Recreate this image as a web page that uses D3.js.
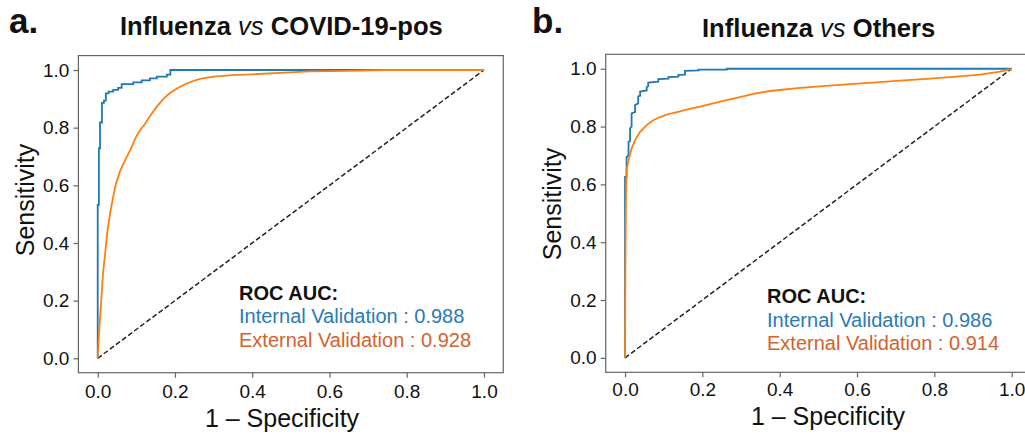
<!DOCTYPE html>
<html>
<head>
<meta charset="utf-8">
<script src="https://cdn.jsdelivr.net/npm/d3@7/dist/d3.min.js"></script>
<style>
  html, body { margin: 0; padding: 0; background: #fff; }
  svg { display: block; font-family: "Liberation Sans", Arial, sans-serif; }
</style>
</head>
<body>
<svg id="chart" width="1025" height="434"></svg>
<script>
// ---------- data ----------
const tickValues = [0, 0.2, 0.4, 0.6, 0.8, 1.0];
const panelLetters = ["a.", "b."];
const titleLeft = ["Influenza", "Influenza"];
const titleRight = ["COVID-19-pos", "Others"];
const aucInternal = ["0.988", "0.986"];
const aucExternal = ["0.928", "0.914"];

// Panel a: Influenza vs COVID-19-pos
const aInternalFpr = [0,0,0.003,0.003,0.006,0.006,0.011,0.011,0.016,0.016,0.021,0.021,0.028,0.028,0.04,0.04,0.053,0.053,0.062,0.062,0.092,0.092,0.114,0.114,0.135,0.135,0.153,0.153,0.179,0.179,0.188,0.188,1];
const aInternalTpr = [0,0.532,0.532,0.728,0.728,0.818,0.818,0.886,0.886,0.894,0.894,0.919,0.919,0.925,0.925,0.931,0.931,0.938,0.938,0.951,0.951,0.957,0.957,0.964,0.964,0.971,0.971,0.977,0.977,0.984,0.984,1.0,1.0];
const aExternalFpr = [0,0.004,0.009,0.014,0.019,0.025,0.033,0.04,0.047,0.058,0.072,0.085,0.1,0.11,0.122,0.135,0.153,0.17,0.187,0.205,0.222,0.245,0.265,0.3,0.35,0.4,0.47,0.55,0.65,0.75,1];
const aExternalTpr = [0,0.1,0.2,0.3,0.36,0.44,0.51,0.56,0.605,0.65,0.69,0.725,0.77,0.792,0.812,0.84,0.873,0.9,0.92,0.936,0.948,0.961,0.969,0.977,0.982,0.985,0.99,0.995,0.997,1.0,1.0];

// Panel b: Influenza vs Others
const bInternalFpr = [0,0,0.004,0.004,0.009,0.009,0.013,0.013,0.017,0.017,0.026,0.026,0.034,0.034,0.039,0.039,0.056,0.056,0.06,0.06,0.086,0.086,0.112,0.112,0.138,0.138,0.155,0.155,0.19,0.19,0.263,0.263,1];
const bInternalTpr = [0,0.626,0.626,0.695,0.7,0.747,0.75,0.794,0.8,0.846,0.85,0.875,0.88,0.904,0.906,0.921,0.925,0.936,0.94,0.952,0.955,0.964,0.966,0.971,0.973,0.979,0.98,0.993,0.994,0.997,0.997,1.0,1.0];
const bExternalFpr = [0,0.001,0.002,0.003,0.004,0.009,0.017,0.026,0.039,0.056,0.073,0.09,0.112,0.14,0.164,0.194,0.215,0.246,0.297,0.335,0.375,0.453,0.52,0.582,0.65,0.711,0.78,0.84,0.918,0.97,1];
const bExternalTpr = [0,0.3,0.5,0.6,0.649,0.684,0.724,0.753,0.782,0.805,0.822,0.833,0.843,0.852,0.86,0.869,0.876,0.886,0.902,0.914,0.923,0.934,0.941,0.947,0.953,0.959,0.965,0.971,0.98,0.99,1.0];

const internalFpr = [aInternalFpr, bInternalFpr];
const internalTpr = [aInternalTpr, bInternalTpr];
const externalFpr = [aExternalFpr, bExternalFpr];
const externalTpr = [aExternalTpr, bExternalTpr];

// ---------- layout ----------
const layout = [
  { x0: 78.4, x1: 503.3, y0: 372.7, y1: 55.6, letterX: 9, letterY: 33, titleX: 120, titleY: 34.5,
    xlabX: 282, xlabY: 427, ylabX: 34, ylabY: 200, legX: 239, legY: 299.5, xPad: 7 },
  { x0: 605.7, x1: 1031, y0: 372.3, y1: 54.3, letterX: 532, letterY: 33, titleX: 702, titleY: 36.5,
    xlabX: 828, xlabY: 425, ylabX: 561, ylabY: 204, legX: 767, legY: 303, xPad: 5.5 }
];

const blueLine = "#1f77b4", orangeLine = "#ff7f0e";
const blueText = "#2a7ab8", orangeText = "#d2622e";

const svg = d3.select("#chart");

layout.forEach((L, i) => {
  const x = d3.scaleLinear().domain([-0.05, 1.05]).range([L.x0, L.x1]);
  const y = d3.scaleLinear().domain([-0.05, 1.05]).range([L.y0, L.y1]);
  const g = svg.append("g");

  // diagonal
  g.append("path")
    .datum([[0, 0], [1, 1]])
    .attr("d", d3.line().x(d => x(d[0])).y(d => y(d[1])))
    .attr("fill", "none").attr("stroke", "#222").attr("stroke-width", 1.5)
    .attr("stroke-dasharray", "5,2.6");

  const line = d3.line().x(d => x(d[0])).y(d => y(d[1]));
  const ext = externalFpr[i].map((f, k) => [f, externalTpr[i][k]]);
  const int = internalFpr[i].map((f, k) => [f, internalTpr[i][k]]);
  g.append("path").datum(int).attr("d", line)
    .attr("fill", "none").attr("stroke", blueLine).attr("stroke-width", 1.8);
  g.append("path").datum(ext).attr("d", line)
    .attr("fill", "none").attr("stroke", orangeLine).attr("stroke-width", 1.8);

  // frame
  g.append("rect")
    .attr("x", L.x0).attr("y", L.y1)
    .attr("width", L.x1 - L.x0).attr("height", L.y0 - L.y1)
    .attr("fill", "none").attr("stroke", "#666").attr("stroke-width", 1.2);

  // axes
  const xAxis = d3.axisBottom(x).tickValues(tickValues).tickFormat(d3.format(".1f"))
    .tickSize(5).tickPadding(L.xPad);
  const yAxis = d3.axisLeft(y).tickValues(tickValues).tickFormat(d3.format(".1f"))
    .tickSize(5).tickPadding(4);
  const gx = g.append("g").attr("transform", `translate(0,${L.y0})`).call(xAxis);
  const gy = g.append("g").attr("transform", `translate(${L.x0},0)`).call(yAxis);
  [gx, gy].forEach(a => {
    a.select(".domain").remove();
    a.selectAll(".tick line").attr("stroke", "#666").attr("stroke-width", 1.2);
    a.selectAll(".tick text").attr("fill", "#111")
      .style("font-size", "19px").style("font-family", "'Liberation Sans', Arial, sans-serif");
  });

  // axis labels
  g.append("text").attr("x", L.xlabX).attr("y", L.xlabY).attr("text-anchor", "middle")
    .style("font-size", "25px").attr("fill", "#111").text("1 \u2013 Specificity");
  g.append("text").attr("transform", `translate(${L.ylabX},${L.ylabY}) rotate(-90)`)
    .attr("text-anchor", "middle").style("font-size", "25px").attr("fill", "#111").text("Sensitivity");

  // panel letter
  g.append("text").attr("x", L.letterX).attr("y", L.letterY)
    .style("font-size", "35px").style("font-weight", "bold").attr("fill", "#111").text(panelLetters[i]);

  // title
  const t = g.append("text").attr("x", L.titleX).attr("y", L.titleY)
    .style("font-size", "25.6px").style("font-weight", "bold").attr("fill", "#111");
  t.append("tspan").text(titleLeft[i] + " ");
  t.append("tspan").style("font-style", "italic").style("font-weight", "normal").text("vs");
  t.append("tspan").text(" " + titleRight[i]);

  // legend text
  g.append("text").attr("x", L.legX).attr("y", L.legY)
    .style("font-size", "20px").style("font-weight", "bold").attr("fill", "#111").text("ROC AUC:");
  g.append("text").attr("x", L.legX).attr("y", L.legY + 23.7)
    .style("font-size", "20px").attr("fill", blueText).text("Internal Validation : " + aucInternal[i]);
  g.append("text").attr("x", L.legX).attr("y", L.legY + 47.4)
    .style("font-size", "20px").attr("fill", orangeText).text("External Validation : " + aucExternal[i]);
});
</script>
</body>
</html>
